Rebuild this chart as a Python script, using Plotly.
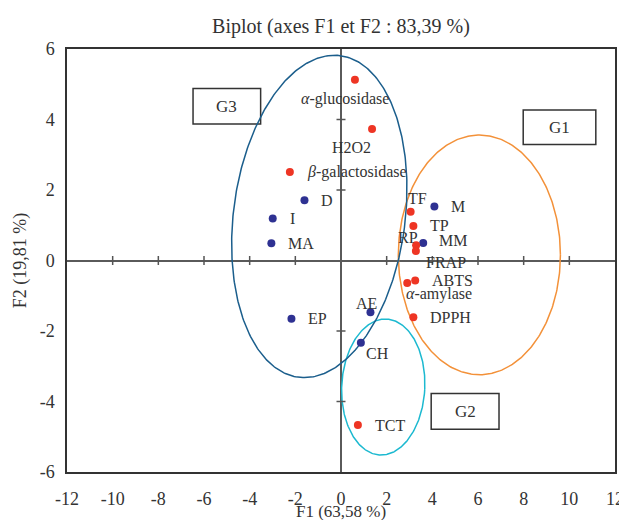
import numpy as np
import plotly.graph_objects as go

# ---------------- data ----------------
red_labels = ["<i>α</i>-glucosidase", "H2O2", "<i>β</i>-galactosidase", "TF", "TP", "RP", "FRAP",
              "ABTS", "<i>α</i>-amylase", "DPPH", "TCT"]
red_f1 = [0.61, 1.36, -2.24, 3.05, 3.17, 3.29, 3.28, 3.25, 2.90, 3.17, 0.74]
red_f2 = [5.13, 3.73, 2.51, 1.38, 0.98, 0.43, 0.27, -0.57, -0.64, -1.61, -4.67]

blue_labels = ["M", "D", "I", "MA", "MM", "EP", "AE", "CH"]
blue_f1 = [4.09, -1.60, -2.99, -3.05, 3.60, -2.17, 1.29, 0.87]
blue_f2 = [1.53, 1.71, 1.19, 0.49, 0.50, -1.65, -1.47, -2.33]

x_ticks = [-12, -10, -8, -6, -4, -2, 0, 2, 4, 6, 8, 10, 12]
y_ticks = [-6, -4, -2, 0, 2, 4, 6]

groups = ["G1", "G2", "G3"]

# ---------------- styles / layout helpers ----------------
# the page body has an 8px margin, so the figure is smaller than the window
W, H = 619, 512
ML, MR, MT, MB = 59, 12, 41, 48
PW, PH = W - ML - MR, H - MT - MB
SX = PW / 24.0
SY = PH / 12.0

FONT = "Liberation Serif"
RED = "#ee3524"
BLUE = "#2e3192"
TXT = "#333333"

# label offsets (xanchor, xshift px, yshift px)
red_off = [("center", -10, -19), ("center", -21, -18), ("left", 15, 0), ("center", 7, 13),
           ("left", 15, 0), ("center", -8, 8), ("left", 8, -12), ("left", 15, 0),
           ("left", -3, -11), ("left", 15, 0), ("left", 15, 0)]
blue_off = [("left", 15, 0), ("left", 15, 0), ("left", 15, 0), ("left", 15, 0), ("left", 14, 2),
            ("left", 15, 0), ("center", -4, 9), ("left", 3, -11)]

# ellipse parameters: center x, center y, semi-axis x (x units), semi-axis y (y units), tilt (deg, clockwise)
ellipse_params = {
    "G3": (-0.95, 1.25, 3.76, 4.60, 7.4, "#1b5e8c"),
    "G1": (6.06, 0.16, 3.55, 3.40, 0.0, "#f39139"),
    "G2": (1.85, -3.59, 1.82, 1.93, 2.8, "#1cb9d0"),
}
# group label boxes: x0, x1, y0, y1 (data units)
box_params = {
    "G3": (-6.48, -3.52, 3.87, 4.876),
    "G1": (7.98, 11.16, 3.29, 4.27),
    "G2": (3.95, 6.92, -4.79, -3.77),
}


def ellipse(cx, cy, rx, ry, tilt):
    t = np.linspace(0, 2 * np.pi, 361)
    th = np.deg2rad(tilt)
    u = rx * SX * np.cos(t)
    v = ry * SY * np.sin(t)
    up = u * np.cos(th) + v * np.sin(th)
    vp = -u * np.sin(th) + v * np.cos(th)
    return cx + up / SX, cy + vp / SY


fig = go.Figure()

for g in groups:
    cx, cy, rx, ry, tilt, col = ellipse_params[g]
    ex, ey = ellipse(cx, cy, rx, ry, tilt)
    fig.add_trace(go.Scatter(x=ex, y=ey, mode="lines", line=dict(color=col, width=1.5),
                             hoverinfo="skip", showlegend=False))

fig.add_trace(go.Scatter(x=blue_f1, y=blue_f2, mode="markers",
                         marker=dict(color=BLUE, size=8), showlegend=False, text=blue_labels))
fig.add_trace(go.Scatter(x=red_f1, y=red_f2, mode="markers",
                         marker=dict(color=RED, size=8), showlegend=False, text=red_labels))

annotations = []
for lab, x, y, (anc, dx, dy) in zip(red_labels + blue_labels, red_f1 + blue_f1, red_f2 + blue_f2,
                                     red_off + blue_off):
    annotations.append(dict(x=x, y=y, text=lab, showarrow=False, xanchor=anc, yanchor="middle",
                            xshift=dx, yshift=dy, font=dict(family=FONT, size=16, color=TXT)))

shapes = []
for g in groups:
    x0, x1, y0, y1 = box_params[g]
    shapes.append(dict(type="rect", xref="x", yref="y", x0=x0, x1=x1, y0=y0, y1=y1,
                       line=dict(color="#333333", width=1.5), fillcolor="white", layer="below"))
    annotations.append(dict(x=(x0 + x1) / 2, y=(y0 + y1) / 2, text=g, showarrow=False,
                            font=dict(family=FONT, size=17, color=TXT)))

# x-axis title placed as a paper annotation (figure bottom is tight)
annotations.append(dict(xref="paper", yref="paper", x=0.5, y=-(503 - (MT + PH)) / PH,
                        xanchor="center", yanchor="middle", showarrow=False,
                        text="F1 (63,58 %)", font=dict(family=FONT, size=17, color=TXT)))

# cross ticks on the zero lines
for t in x_ticks:
    if t in (-12, 12, 0):
        continue
    shapes.append(dict(type="line", xref="x", yref="y", x0=t, x1=t, ysizemode="pixel", yanchor=0,
                       y0=-4.5, y1=4.5, line=dict(color="#555555", width=1.5)))
for t in y_ticks:
    if t in (-6, 6, 0):
        continue
    shapes.append(dict(type="line", xref="x", yref="y", y0=t, y1=t, xsizemode="pixel", xanchor=0,
                       x0=-4.5, x1=4.5, line=dict(color="#555555", width=1.5)))

fig.update_layout(
    width=W, height=H,
    margin=dict(l=ML, r=MR, t=MT, b=MB),
    paper_bgcolor="white", plot_bgcolor="white",
    font=dict(family=FONT, size=18, color=TXT),
    title=dict(text="Biplot (axes F1 et F2 : 83,39 %)", x=(ML + PW / 2) / W, xanchor="center",
               y=1 - 18 / H, yanchor="middle", font=dict(family=FONT, size=20, color=TXT)),
    shapes=shapes, annotations=annotations, showlegend=False,
)
fig.update_xaxes(range=[-12, 12], tickvals=x_ticks, ticktext=[str(v) for v in x_ticks],
                 showgrid=False, zeroline=True, zerolinecolor="#5a5a5a", zerolinewidth=2,
                 showline=True, mirror=True, linecolor="#333333", linewidth=1.5,
                 ticks="outside", ticklen=10, tickcolor="rgba(0,0,0,0)", automargin=False,
                 tickfont=dict(family=FONT, size=18, color=TXT))
fig.update_yaxes(range=[-6, 6], tickvals=y_ticks, ticktext=[str(v) for v in y_ticks],
                 showgrid=False, zeroline=True, zerolinecolor="#5a5a5a", zerolinewidth=2,
                 showline=True, mirror=True, linecolor="#333333", linewidth=1.5,
                 ticks="outside", ticklen=7, tickcolor="rgba(0,0,0,0)", automargin=False,
                 tickfont=dict(family=FONT, size=18, color=TXT),
                 title=dict(text="F2 (19,81 %)", standoff=8, font=dict(family=FONT, size=18, color=TXT)))

fig.write_html("out.html")
